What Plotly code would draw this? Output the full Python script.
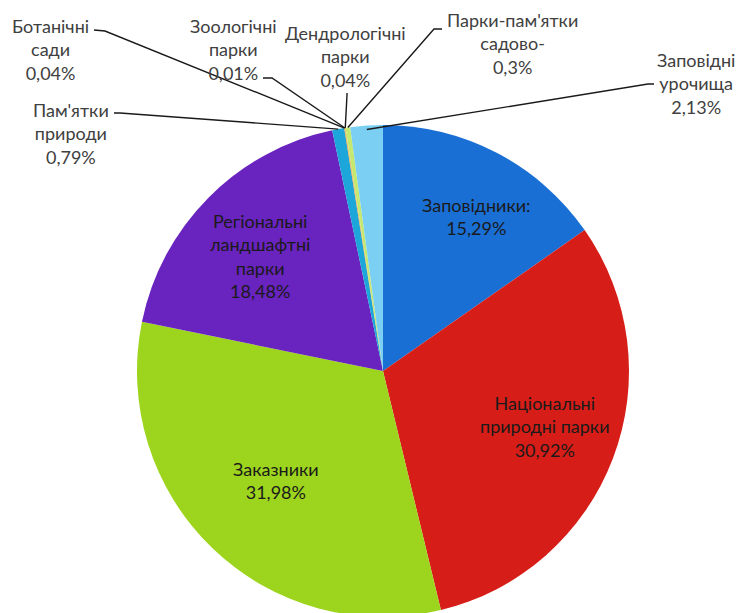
import math
import plotly.graph_objects as go

labels = ["Заповідники:", "Національні природні парки", "Заказники",
          "Регіональні ландшафтні парки", "Пам'ятки природи", "Ботанічні сади",
          "Зоологічні парки", "Дендрологічні парки", "Парки-пам'ятки садово-",
          "Заповідні урочища"]
values = [15.29, 30.92, 31.98, 18.48, 0.79, 0.04, 0.01, 0.04, 0.3, 2.13]
value_text = ["15,29%", "30,92%", "31,98%", "18,48%", "0,79%", "0,04%",
              "0,01%", "0,04%", "0,3%", "2,13%"]
label_lines = [
    ["Заповідники:"],
    ["Національні", "природні парки"],
    ["Заказники"],
    ["Регіональні", "ландшафтні", "парки"],
    ["Пам'ятки", "природи"],
    ["Ботанічні", "сади"],
    ["Зоологічні", "парки"],
    ["Дендрологічні", "парки"],
    ["Парки-пам'ятки", "садово-"],
    ["Заповідні", "урочища"],
]
colors = ["#1A6FD5", "#D71D17", "#9DD51E", "#6923BE", "#1CA6D9", "#F2A33A",
          "#E8785A", "#D9C24A", "#C5E86E", "#7BCFF2"]

W, H = 745, 613
OFF = 8  # page body margin
CX, CY, R = 383, 371, 246  # screen pixel geometry of the pie


def px(x):
    return (x - OFF) / W


def py(y):
    return 1 - (y - OFF) / H


fig = go.Figure(go.Pie(
    labels=labels, values=values, sort=False, direction="clockwise",
    rotation=0, textinfo="none", marker=dict(colors=colors, line=dict(width=0)),
    domain=dict(x=[px(CX - R), px(CX + R)], y=[py(CY + R), py(CY - R)]),
    showlegend=False, hoverinfo="label+percent",
))

# inside label positions (screen pixel centres) for the large slices
inside_pos = {0: (476, 217), 1: (545, 426), 2: (276, 480), 3: (260, 256)}
# outside label centres and leader start/bend points (screen pixel)
outside = {
    4: ((71, 134), [(114, 113), (120, 113)]),
    5: ((50, 49), [(94, 30), (105, 31)]),
    6: ((233, 49), [(263, 78), (272, 78)]),
    7: ((345, 57), [(347, 93), (347, 95)]),
    8: ((512, 43), [(442, 29), (434, 29)]),
    9: ((696, 84), [(654, 84), (648, 84)]),
}

font_family = "Lato, 'Open Sans', sans-serif"
FS = 18
annotations = []
for i, (x, y) in inside_pos.items():
    txt = "<br>".join(label_lines[i] + [value_text[i]])
    annotations.append(dict(x=px(x), y=py(y), xref="paper", yref="paper",
                            xanchor="center", yanchor="middle",
                            text=txt, showarrow=False,
                            font=dict(family=font_family, size=FS, color="#1a1a1a")))

total = sum(values)
cum = 0.0
mids = []
for v in values:
    mids.append((cum + v / 2) / total)
    cum += v

shapes = []
for i, ((x, y), pts) in outside.items():
    txt = "<br>".join(label_lines[i] + [value_text[i]])
    annotations.append(dict(x=px(x), y=py(y), xref="paper", yref="paper",
                            xanchor="center", yanchor="middle",
                            text=txt, showarrow=False,
                            font=dict(family=font_family, size=FS, color="#404040")))
    ang = mids[i] * 2 * math.pi
    rr = R - (4 if i == 9 else 0)
    tx = CX + rr * math.sin(ang)
    ty = CY - rr * math.cos(ang)
    path_pts = pts + [(tx, ty)]
    path = "M " + " L ".join(f"{px(a):.5f},{py(b):.5f}" for a, b in path_pts)
    shapes.append(dict(type="path", path=path, xref="paper", yref="paper",
                       line=dict(color="#1a1a1a", width=1.4)))

fig.update_layout(width=W, height=H, margin=dict(l=0, r=0, t=0, b=0),
                  paper_bgcolor="white", plot_bgcolor="white",
                  annotations=annotations, shapes=shapes,
                  font=dict(family=font_family))
fig.write_html("out.html")
